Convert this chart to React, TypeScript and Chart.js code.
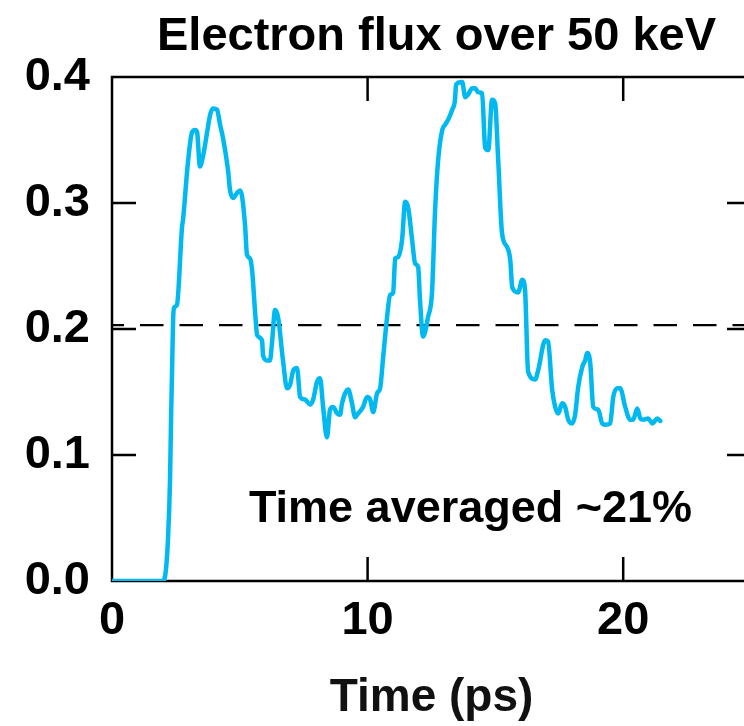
import React, { useEffect, useRef } from "react";
import { Chart, registerables } from "chart.js";

Chart.register(...registerables);

// ---- data ----
const TIME = [
  0, 2.0, 2.11, 2.19, 2.27, 2.31, 2.35, 2.39, 2.43, 2.54, 2.74, 2.78, 2.97, 3.13, 3.25, 3.33,
  3.44, 3.56, 3.72, 3.84, 3.95, 4.11, 4.23, 4.34, 4.54, 4.62, 4.74, 4.89, 5.01, 5.09, 5.21,
  5.28, 5.4, 5.48, 5.6, 5.68, 5.87, 5.91, 6.07, 6.18, 6.26, 6.38, 6.5, 6.69, 6.85, 6.97, 7.09,
  7.24, 7.36, 7.55, 7.75, 7.87, 8.02, 8.14, 8.26, 8.41, 8.53, 8.65, 8.81, 8.92, 9.0, 9.12,
  9.24, 9.39, 9.51, 9.63, 9.82, 9.98, 10.1, 10.22, 10.37, 10.49, 10.61, 10.76, 10.88, 11.0,
  11.08, 11.19, 11.35, 11.47, 11.59, 11.74, 11.86, 11.98, 12.05, 12.17, 12.37, 12.52, 12.64,
  12.76, 12.92, 13.03, 13.15, 13.31, 13.42, 13.46, 13.7, 13.82, 13.93, 14.09, 14.21, 14.32,
  14.48, 14.6, 14.72, 14.87, 14.99, 15.11, 15.26, 15.46, 15.58, 15.66, 15.89, 16.05, 16.16,
  16.28, 16.56, 16.67, 16.95, 17.06, 17.22, 17.34, 17.46, 17.61, 17.73, 17.85, 18.0, 18.12,
  18.24, 18.4, 18.51, 18.59, 18.71, 18.83, 19.02, 19.18, 19.3, 19.49, 19.61, 19.77, 19.88,
  20.08, 20.27, 20.39, 20.55, 20.67, 20.78, 20.98, 21.14, 21.33, 21.45,
];
const FLUX = [
  0, 0, 0.009, 0.033, 0.08, 0.128, 0.167, 0.207, 0.217, 0.219, 0.281, 0.287, 0.332, 0.356,
  0.358, 0.356, 0.329, 0.337, 0.356, 0.37, 0.375, 0.374, 0.362, 0.352, 0.326, 0.31, 0.304,
  0.308, 0.31, 0.305, 0.281, 0.259, 0.256, 0.247, 0.213, 0.195, 0.191, 0.179, 0.175, 0.175,
  0.189, 0.215, 0.209, 0.175, 0.153, 0.156, 0.167, 0.169, 0.146, 0.144, 0.14, 0.144, 0.158,
  0.161, 0.138, 0.114, 0.136, 0.138, 0.133, 0.132, 0.141, 0.149, 0.152, 0.141, 0.13, 0.133,
  0.138, 0.146, 0.144, 0.134, 0.149, 0.153, 0.178, 0.209, 0.227, 0.229, 0.256, 0.257, 0.271,
  0.301, 0.296, 0.271, 0.252, 0.249, 0.223, 0.194, 0.21, 0.229, 0.294, 0.334, 0.358, 0.362,
  0.366, 0.374, 0.382, 0.394, 0.396, 0.384, 0.386, 0.391, 0.391, 0.388, 0.387, 0.344, 0.342,
  0.382, 0.379, 0.334, 0.276, 0.265, 0.255, 0.233, 0.229, 0.239, 0.231, 0.166, 0.16, 0.167,
  0.191, 0.19, 0.152, 0.138, 0.133, 0.141, 0.138, 0.128, 0.125, 0.132, 0.154, 0.17, 0.175,
  0.181, 0.173, 0.138, 0.136, 0.125, 0.124, 0.125, 0.146, 0.153, 0.153, 0.138, 0.128, 0.128,
  0.137, 0.129, 0.128, 0.129, 0.125, 0.129, 0.127,
];
const AVG_LEVEL = 0.203;
const X_TICKS = [0, 10, 20];
const Y_TICKS = [0, 0.1, 0.2, 0.3, 0.4];
const X_MIN = 0;
const X_MAX = 25;
const Y_MIN = 0;
const Y_MAX = 0.4;
const TITLE = "Electron flux over 50 keV";
const X_TITLE = "Time (ps)";
const NOTE = "Time averaged ~21%";

const FONT = '"Liberation Sans", Arial, Helvetica, sans-serif';

const framePlugin = {
  id: "frame",
  beforeDatasetsDraw(chart: any) {
    const { ctx, chartArea: a, scales } = chart;
    ctx.save();
    ctx.strokeStyle = "#000";
    ctx.lineWidth = 2.5;
    ctx.strokeRect(a.left, a.top, a.right - a.left, a.bottom - a.top);
    const L = 24;
    ctx.beginPath();
    for (const v of X_TICKS) {
      const px = scales.x.getPixelForValue(v);
      if (px <= a.left + 1 || px >= a.right - 1) continue;
      ctx.moveTo(px, a.bottom);
      ctx.lineTo(px, a.bottom - L);
      ctx.moveTo(px, a.top);
      ctx.lineTo(px, a.top + L);
    }
    for (const v of Y_TICKS) {
      const py = scales.y.getPixelForValue(v);
      if (py >= a.bottom - 1 || py <= a.top + 1) continue;
      ctx.moveTo(a.left, py);
      ctx.lineTo(a.left + L, py);
      ctx.moveTo(a.right, py);
      ctx.lineTo(a.right - L, py);
    }
    ctx.stroke();
    ctx.restore();
  },
  afterDatasetsDraw(chart: any) {
    const { ctx } = chart;
    ctx.save();
    ctx.fillStyle = "#000";
    ctx.textAlign = "center";
    ctx.textBaseline = "alphabetic";
    ctx.font = `bold 47px ${FONT}`;
    ctx.fillText(TITLE, 436.5, 50);
    ctx.font = `bold 45px ${FONT}`;
    ctx.fillText(NOTE, 470.5, 522);
    ctx.restore();
  },
};

export default function App() {
  const ref = useRef<HTMLCanvasElement | null>(null);

  useEffect(() => {
    if (!ref.current) return;
    const chart = new Chart(ref.current, {
      type: "line",
      data: {
        datasets: [
          {
            data: TIME.map((t, i) => ({ x: t, y: FLUX[i] })),
            borderColor: "#00b9f0",
            borderWidth: 4.5,
            pointRadius: 0,
            cubicInterpolationMode: "monotone",
            borderJoinStyle: "round",
            borderCapStyle: "round",
            order: 0,
          },
          {
            data: [
              { x: X_MIN, y: AVG_LEVEL },
              { x: X_MAX, y: AVG_LEVEL },
            ],
            borderColor: "#000",
            borderWidth: 2.2,
            borderDash: [23.5, 16],
            borderDashOffset: 11.5,
            pointRadius: 0,
            order: 1,
          },
        ],
      } as any,
      options: {
        animation: false,
        responsive: false,
        events: [],
        layout: { padding: { top: 77, right: 19, left: 0, bottom: 0 } },
        plugins: {
          legend: { display: false },
          tooltip: { enabled: false },
          title: { display: false },
        },
        scales: {
          x: {
            type: "linear",
            min: X_MIN,
            max: X_MAX,
            grid: { display: false, drawTicks: false },
            border: { display: false },
            afterBuildTicks: (s: any) => {
              s.ticks = X_TICKS.map((v) => ({ value: v }));
            },
            afterFit: (s: any) => {
              s.height = 145;
            },
            ticks: {
              padding: 12,
              color: "#000",
              maxRotation: 0,
              font: { family: FONT, size: 47, weight: "bold" },
              callback: (v: any) => String(v),
            },
            title: {
              display: true,
              text: X_TITLE,
              color: "#111",
              padding: { top: 0, bottom: 5 },
              font: { family: FONT, size: 46, weight: "bold", lineHeight: 1 },
            },
          },
          y: {
            type: "linear",
            min: Y_MIN,
            max: Y_MAX,
            grid: { display: false, drawTicks: false },
            border: { display: false },
            afterBuildTicks: (s: any) => {
              s.ticks = Y_TICKS.map((v) => ({ value: v }));
            },
            afterFit: (s: any) => {
              s.width = 112;
            },
            ticks: {
              padding: 22,
              color: "#000",
              font: { family: FONT, size: 47, weight: "bold" },
              callback: (v: any) => Number(v).toFixed(1),
            },
          },
        },
      } as any,
      plugins: [framePlugin],
    });
    return () => chart.destroy();
  }, []);

  return (
    <div
      style={{
        position: "fixed",
        left: 0,
        top: 0,
        width: 744,
        height: 726,
        overflow: "hidden",
        background: "#fff",
      }}
    >
      <canvas ref={ref} width={770} height={726} style={{ display: "block" }} />
    </div>
  );
}
